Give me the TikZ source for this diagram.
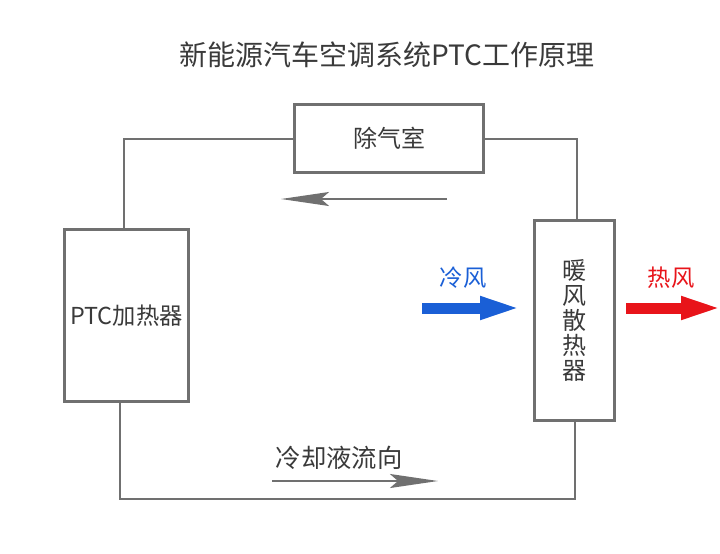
\documentclass[tikz,border=0pt]{standalone}
\usepackage{fontspec}
\newfontfamily\cjk{Noto Sans CJK SC}
\usetikzlibrary{positioning, arrows.meta, calc}
\definecolor{linegray}{HTML}{707070}
\definecolor{textgray}{HTML}{3A3A3A}
\definecolor{coolblue}{HTML}{1A5FD6}
\definecolor{hotred}{HTML}{E8141A}

\begin{document}
\begin{tikzpicture}[x=0.75pt, y=-0.75pt, node distance=5pt,
  box/.style={draw=linegray, line width=2.25pt, text=textgray, align=center, inner sep=0pt,
    font=\cjk\fontsize{18pt}{18.75pt}\selectfont},
  pipe/.style={draw=linegray, line width=1.5pt},
  flow/.style={pipe, -{Stealth[length=36pt, width=10.5pt, inset=6pt]}},
  wind/.style={line width=8.25pt, -{Triangle[length=33pt, width=15pt]}},
  tag/.style={font=\cjk\fontsize{17.5pt}{20pt}\selectfont}]
  \useasboundingbox (0,0) rectangle (720,553);

  \node[tag, text=textgray, font=\cjk\fontsize{21pt}{24pt}\selectfont] (title) at (387,55) {新能源汽车空调系统PTC工作原理};
  \node[box, minimum width=141.75pt, minimum height=51pt]  (deair) at (389,138.5) {除气室};
  \node[box, minimum width=93pt, minimum height=129pt,
        font=\cjk\fontsize{17.5pt}{18.75pt}\selectfont]    (ptc)   at (126.5,315.5) {PTC加热器};
  \node[box, minimum width=60pt, minimum height=150pt]   (rad)   at (574.5,320.5) {暖\\风\\散\\热\\器};

  % coolant loop
  \coordinate (ptc in)  at ($(ptc.north)+(-2.5,0)$);
  \coordinate (ptc out) at ($(ptc.south)+(-6.5,0)$);
  \coordinate (rad in)  at ($(rad.north)+(2.5,0)$);
  \coordinate (loop bottom) at (0,499);
  \draw[pipe] (ptc in) |- (deair.west);
  \draw[pipe] (deair.east) -| (rad in);
  \draw[pipe] (ptc out) -- (ptc out |- loop bottom) -| (rad.south);

  % flow direction
  \coordinate (back start) at (447,199);
  \coordinate (back end)   at (281,199);
  \draw[flow] (back start) -- (back end);
  \coordinate (fwd start) at (272,481);
  \coordinate (fwd end)   at (438,481);
  \draw[flow] (fwd start) -- (fwd end);
  \node[tag, text=textgray, font=\cjk\fontsize{19pt}{20pt}\selectfont] (coolant) at (339,458) {冷却液流向};

  % air
  \coordinate (cold start) at (422,308);
  \coordinate (cold end)   at (524,308);
  \draw[wind, coolblue] (cold start) -- (cold end);
  \node[tag, text=coolblue] (cold) at (463,278) {冷风};
  \coordinate (hot start) at (626,308);
  \coordinate (hot end)   at (725,308);
  \draw[wind, hotred] (hot start) -- (hot end);
  \node[tag, text=hotred] (hot) at (671,278) {热风};
\end{tikzpicture}
\end{document}
